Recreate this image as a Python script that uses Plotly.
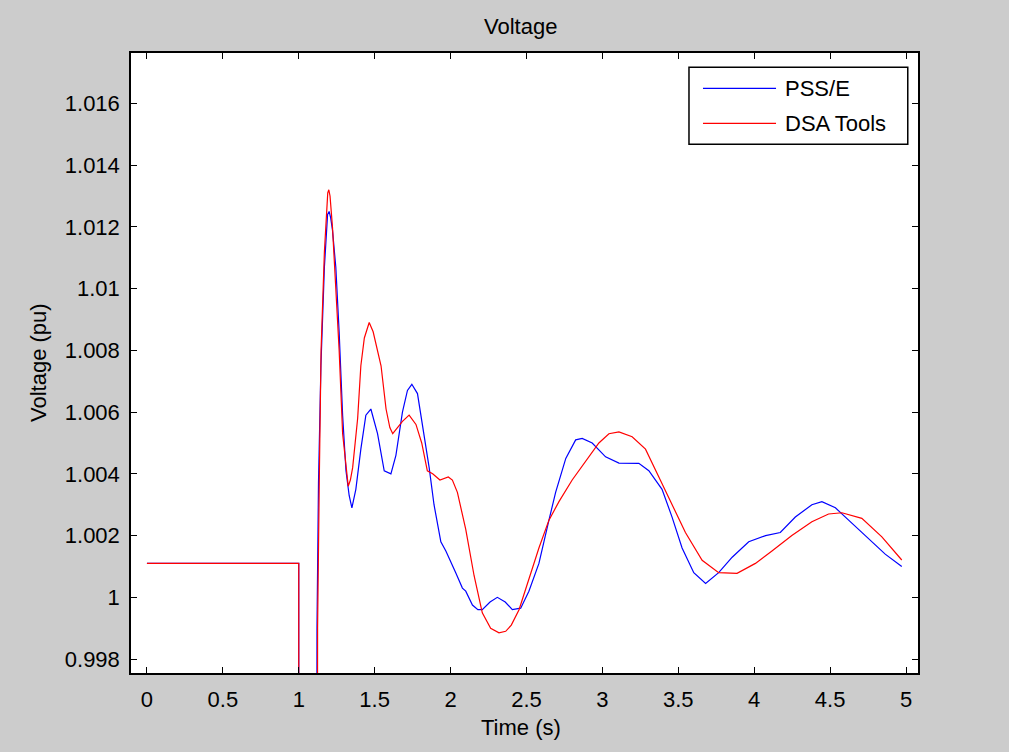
import plotly.graph_objects as go

# ---- data ----
t_psse = [0, 1.0, 1.0, 1.11, 1.12, 1.13, 1.146, 1.169, 1.19, 1.2, 1.21, 1.222, 1.244, 1.266,
          1.289, 1.311, 1.332, 1.35, 1.376, 1.409, 1.442, 1.475, 1.519, 1.563, 1.607, 1.64,
          1.683, 1.716, 1.745, 1.782, 1.826, 1.859, 1.891, 1.936, 1.969, 2.012, 2.034, 2.078,
          2.1, 2.144, 2.18, 2.209, 2.26, 2.308, 2.36, 2.407, 2.462, 2.516, 2.582, 2.648, 2.692,
          2.759, 2.824, 2.867, 2.933, 3.021, 3.109, 3.24, 3.306, 3.393, 3.459, 3.525, 3.602,
          3.68, 3.766, 3.855, 3.964, 4.075, 4.172, 4.271, 4.38, 4.446, 4.535, 4.622, 4.732,
          4.863, 4.972]
v_psse = [1.0011, 1.0011, 0.3, 0.3, 0.999, 1.0037, 1.0075, 1.0107, 1.0124, 1.0125, 1.0123,
          1.0119, 1.0107, 1.0086, 1.0059, 1.0041, 1.0033, 1.0029, 1.0035, 1.0048, 1.0059,
          1.0061, 1.0053, 1.0041, 1.0040, 1.0046, 1.0060, 1.0067, 1.0069, 1.0066, 1.0053,
          1.0042, 1.0030, 1.0018, 1.0015, 1.0010, 1.0008, 1.0003, 1.0002, 0.99975, 0.9996,
          0.9996, 0.99985, 1.0000, 0.99985, 0.9996, 0.99965, 1.0002, 1.0011, 1.0025, 1.0034,
          1.0045, 1.0051, 1.00515, 1.0050, 1.00455, 1.00435, 1.00434, 1.0041, 1.0035, 1.0026,
          1.0016, 1.0008, 1.00045, 1.0008, 1.0013, 1.0018, 1.0020, 1.0021, 1.0026, 1.0030,
          1.0031, 1.0029, 1.0025, 1.0020, 1.0014, 1.0010]

t_dsa = [0, 1.0, 1.0, 1.113, 1.124, 1.135, 1.147, 1.169, 1.191, 1.198, 1.206, 1.222, 1.244,
         1.266, 1.289, 1.311, 1.326, 1.34, 1.355, 1.388, 1.409, 1.432, 1.464, 1.49, 1.508,
         1.542, 1.575, 1.6, 1.619, 1.65, 1.683, 1.727, 1.772, 1.81, 1.847, 1.882, 1.93, 1.985,
         2.012, 2.045, 2.1, 2.155, 2.209, 2.264, 2.319, 2.363, 2.4, 2.451, 2.516, 2.582, 2.648,
         2.714, 2.801, 2.889, 2.977, 3.043, 3.109, 3.196, 3.284, 3.372, 3.459, 3.547, 3.657,
         3.766, 3.887, 4.008, 4.117, 4.248, 4.38, 4.49, 4.578, 4.709, 4.841, 4.972]
v_dsa = [1.0011, 1.0011, 0.3, 0.3, 0.999, 1.0037, 1.0080, 1.0112, 1.0131, 1.0132, 1.0130,
         1.0120, 1.0102, 1.0080, 1.0053, 1.0042, 1.0036, 1.0038, 1.0042, 1.0058, 1.0075,
         1.0084, 1.0089, 1.0086, 1.0082, 1.0075, 1.0061, 1.0055, 1.0053, 1.0055, 1.0057,
         1.0059, 1.0056, 1.0050, 1.0041, 1.0040, 1.0038, 1.0039, 1.0038, 1.0034, 1.0022,
         1.0007, 0.9995, 0.9990, 0.99885, 0.9989, 0.9991, 0.9996, 1.0006, 1.0016, 1.0025,
         1.0031, 1.0038, 1.0044, 1.0050, 1.0053, 1.00536, 1.0052, 1.0048, 1.0039, 1.0030,
         1.0021, 1.0012, 1.0008, 1.00078, 1.0011, 1.0015, 1.0020, 1.00245, 1.0027, 1.00274,
         1.00256, 1.00196, 1.00121]

x_ticks = [0, 0.5, 1, 1.5, 2, 2.5, 3, 3.5, 4, 4.5, 5]
x_tick_labels = ["0", "0.5", "1", "1.5", "2", "2.5", "3", "3.5", "4", "4.5", "5"]
y_ticks = [0.998, 1.0, 1.002, 1.004, 1.006, 1.008, 1.01, 1.012, 1.014, 1.016]
y_tick_labels = ["0.998", "1", "1.002", "1.004", "1.006", "1.008", "1.01", "1.012", "1.014", "1.016"]
series_names = ["PSS/E", "DSA Tools"]

FONT = "Liberation Sans, Arial, sans-serif"
FS = 22
BLUE = "#0000ff"
RED = "#ff0000"

fig = go.Figure()
fig.add_trace(go.Scatter(x=t_psse, y=v_psse, mode="lines", name=series_names[0],
                         line=dict(color=BLUE, width=1.2), showlegend=False))
fig.add_trace(go.Scatter(x=t_dsa, y=v_dsa, mode="lines", name=series_names[1],
                         line=dict(color=RED, width=1.2), showlegend=False))

axis_common = dict(showline=True, linecolor="black", linewidth=1.5, mirror="ticks",
                   ticks="inside", ticklen=6, tickcolor="black", tickwidth=1.2,
                   showgrid=False, zeroline=False,
                   tickfont=dict(family=FONT, size=FS, color="black"))

fig.update_xaxes(range=[-0.105, 5.079], tickvals=x_ticks, ticktext=x_tick_labels,
                 ticklabelstandoff=6, **axis_common)
fig.update_yaxes(range=[0.99755, 1.01763], tickvals=y_ticks, ticktext=y_tick_labels,
                 ticklabelstandoff=5, **axis_common)

# custom legend box (MATLAB style)
lx0, lx1 = 0.709, 0.987
ly0, ly1 = 0.853, 0.977
fig.add_shape(type="rect", xref="paper", yref="paper", x0=lx0, x1=lx1, y0=ly0, y1=ly1,
              line=dict(color="black", width=1.5), fillcolor="white", layer="above")
for i, (name, col) in enumerate(zip(series_names, [BLUE, RED])):
    yy = 0.943 - i * 0.0565
    fig.add_shape(type="line", xref="paper", yref="paper", x0=0.7268, x1=0.8196,
                  y0=yy, y1=yy, line=dict(color=col, width=1.2), layer="above")
    fig.add_annotation(xref="paper", yref="paper", x=0.8285, y=yy, text=name,
                       showarrow=False, xanchor="left", yanchor="middle",
                       font=dict(family=FONT, size=FS, color="black"))

# titles
fig.add_annotation(xref="paper", yref="paper", x=0.4955, y=1.0, yshift=27, text="Voltage",
                   showarrow=False, xanchor="center", yanchor="middle",
                   font=dict(family=FONT, size=FS, color="black"))
fig.add_annotation(xref="paper", yref="paper", x=0.495, y=0, yshift=-54, text="Time (s)",
                   showarrow=False, xanchor="center", yanchor="middle",
                   font=dict(family=FONT, size=FS, color="black"))
fig.add_annotation(xref="paper", yref="paper", x=0, xshift=-93, y=0.5, text="Voltage (pu)",
                   textangle=-90, showarrow=False, xanchor="center", yanchor="middle",
                   font=dict(family=FONT, size=FS, color="black"))

fig.update_layout(width=1009, height=752, paper_bgcolor="#cccccc", plot_bgcolor="white",
                  margin=dict(l=131, r=91, t=53, b=79), font=dict(family=FONT, size=FS),
                  showlegend=False)

fig.write_html("out.html")
